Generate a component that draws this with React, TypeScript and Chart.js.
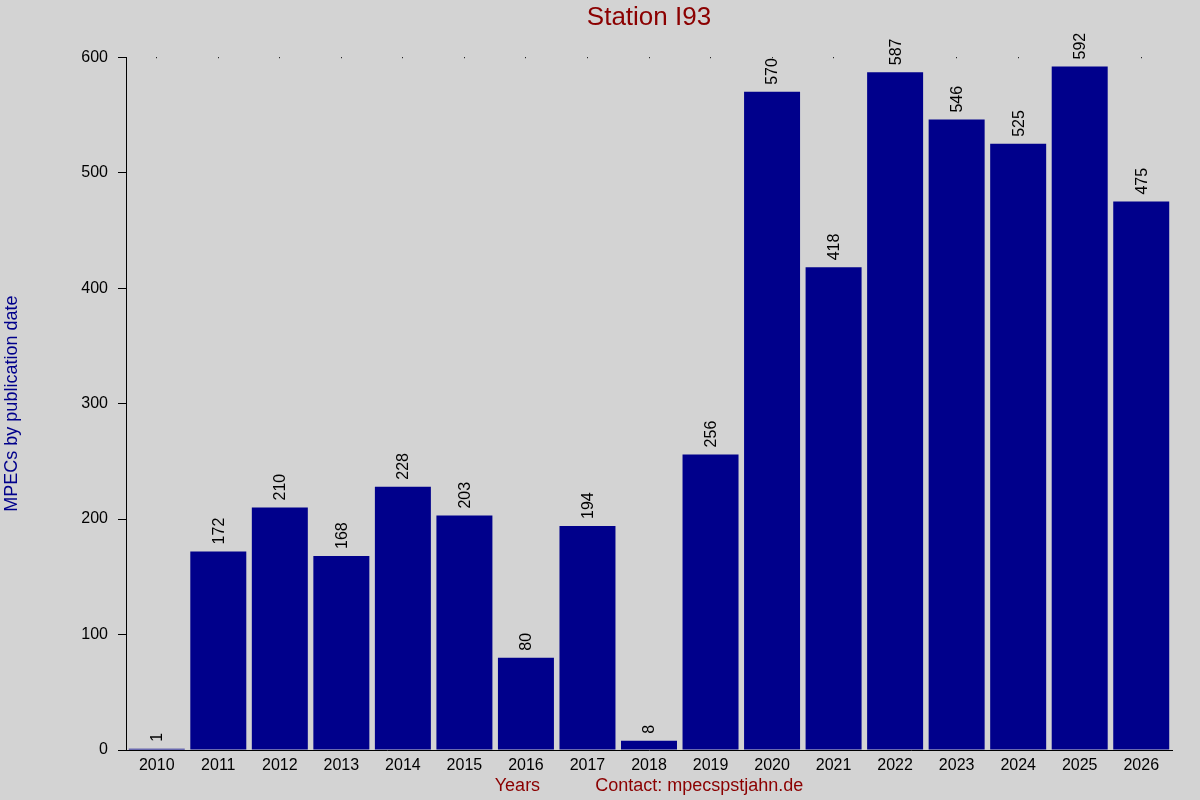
import React, { useEffect, useRef } from "react";
import { Chart, registerables } from "chart.js";

Chart.register(...registerables);

const years = ["2010","2011","2012","2013","2014","2015","2016","2017","2018","2019","2020","2021","2022","2023","2024","2025","2026"];
const counts = [1, 172, 210, 168, 228, 203, 80, 194, 8, 256, 570, 418, 587, 546, 525, 592, 475];
const yTicks = [0, 100, 200, 300, 400, 500, 600];

const FONT = "'Liberation Sans', Arial, sans-serif";

const valueLabels = {
  id: "valueLabels",
  afterDatasetsDraw(chart: any) {
    const ctx = chart.ctx;
    const meta = chart.getDatasetMeta(0);
    ctx.save();
    ctx.fillStyle = "#000000";
    ctx.font = `16px ${FONT}`;
    ctx.textAlign = "left";
    ctx.textBaseline = "middle";
    meta.data.forEach((el: any, i: number) => {
      ctx.save();
      ctx.translate(el.x + 1, el.y - 7);
      ctx.rotate(-Math.PI / 2);
      ctx.fillText(String(counts[i]), 0, 0);
      ctx.restore();
    });
    ctx.restore();
  },
};

export default function App() {
  const ref = useRef<HTMLCanvasElement>(null);
  useEffect(() => {
    document.body.style.margin = "0";
    document.body.style.background = "#d3d3d3";
    const chart = new Chart(ref.current!, {
      type: "bar",
      data: {
        labels: years,
        datasets: [
          {
            data: counts,
            backgroundColor: "#00008b",
            borderWidth: 0,
            inflateAmount: 0,
            barPercentage: 0.91,
            categoryPercentage: 1,
          },
        ],
      },
      options: {
        animation: false,
        responsive: false,
        devicePixelRatio: 1,
        layout: { padding: { left: 0, right: 28, top: 0, bottom: 0 } },
        plugins: {
          legend: { display: false },
          tooltip: { enabled: false },
          title: {
            display: true,
            fullSize: false,
            text: "Station I93",
            color: "#8b0000",
            font: { family: FONT, size: 26, weight: "normal" },
            padding: { top: 2, bottom: 24 },
          },
        },
        scales: {
          x: {
            afterFit: (s: any) => { s.height = 50; },
            grid: {
              display: true,
              offset: false,
              drawTicks: false,
              color: "#000000",
              lineWidth: 1,
            },
            border: { display: true, color: "#000000", width: 1, dash: [1, 3000] },
            ticks: {
              color: "#000000",
              font: { family: FONT, size: 16 },
              padding: 6,
              maxRotation: 0,
              autoSkip: false,
            },
            title: {
              display: true,
              text: "Years           Contact: mpecspstjahn.de",
              color: "#8b0000",
              font: { family: FONT, size: 18 },
              padding: { top: 0, bottom: 3 },
              align: "center",
            },
          },
          y: {
            min: 0,
            max: 600,
            afterFit: (s: any) => { s.width = 126; },
            afterBuildTicks: (s: any) => { s.ticks = yTicks.map((v) => ({ value: v })); },
            grid: {
              drawOnChartArea: false,
              drawTicks: true,
              tickLength: 8,
              tickColor: "#000000",
              color: "#000000",
            },
            border: { display: true, color: "#000000", width: 1 },
            ticks: {
              color: "#000000",
              font: { family: FONT, size: 16 },
              padding: 10,
              stepSize: 100,
            },
            title: {
              display: true,
              text: "MPECs by publication date",
              color: "#00008b",
              font: { family: FONT, size: 18 },
              padding: { top: 1, bottom: 0 },
            },
          },
        },
      },
      plugins: [valueLabels],
    });
    return () => chart.destroy();
  }, []);
  return (
    <div style={{ width: 1200, height: 800, background: "#d3d3d3" }}>
      <canvas ref={ref} width={1200} height={800} style={{ display: "block" }} />
    </div>
  );
}
